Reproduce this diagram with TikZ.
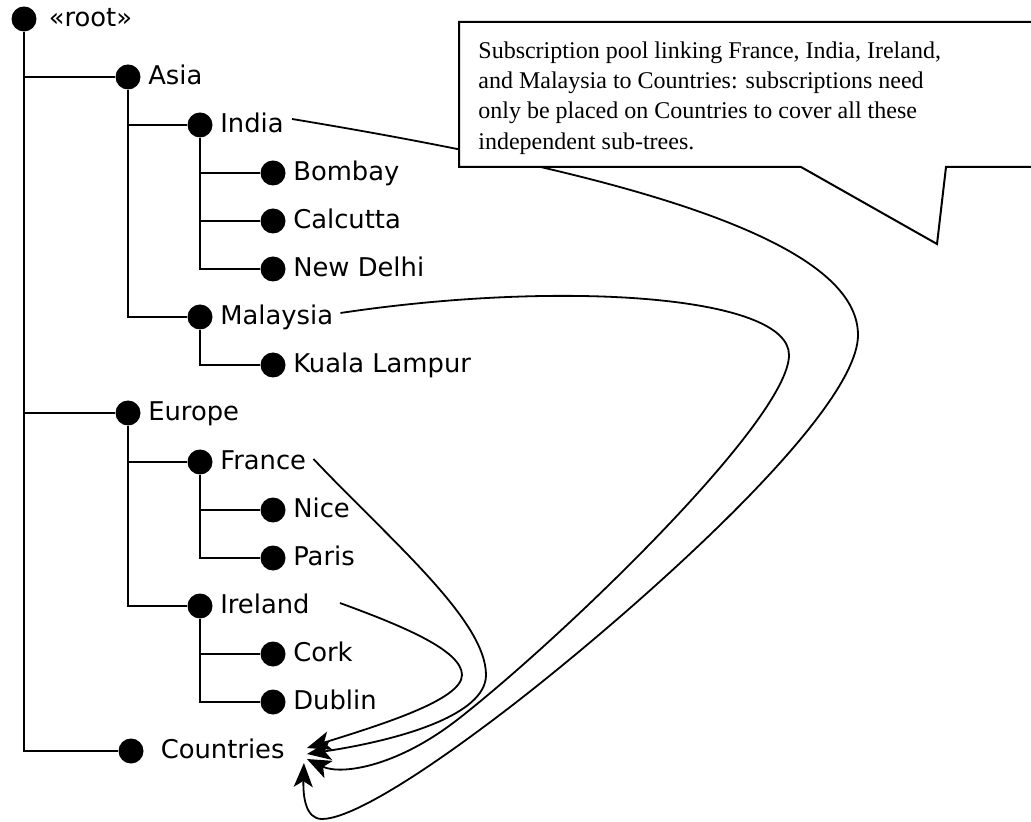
\documentclass[tikz,border=0pt]{standalone}
\usepackage{fontspec}
\setmainfont{Liberation Serif}
\setsansfont{DejaVu Sans}
\usetikzlibrary{arrows.meta,positioning}

\begin{document}
\begin{tikzpicture}[x=0.5pt,y=-0.5pt,
  every node/.style={font=\sffamily\fontsize{12.9}{15}\selectfont},
  dot/.style={circle,fill=black,inner sep=0pt,minimum size=12.5pt},
  lbl/.style={inner sep=0pt,text height=0.729em,text depth=0pt,anchor=west},
  tr/.style={line width=1pt},
  ln/.style={line width=0.9pt,-{Stealth[length=12pt,width=9.5pt,inset=3pt]}}]
\useasboundingbox (0,0) rectangle (1031,822);
% tree
\node[dot] (root) at (24,19) {};
\node[dot] (asia) at (128,77) {};
\node[dot] (india) at (200,125) {};
\node[dot] (bombay) at (273,173) {};
\node[dot] (calcutta) at (273,221) {};
\node[dot] (delhi) at (273,269) {};
\node[dot] (malaysia) at (200,317) {};
\node[dot] (kuala) at (273,365) {};
\node[dot] (europe) at (128,413) {};
\node[dot] (france) at (200,462) {};
\node[dot] (nice) at (273,510) {};
\node[dot] (paris) at (273,558) {};
\node[dot] (ireland) at (200,606) {};
\node[dot] (cork) at (273,654) {};
\node[dot] (dublin) at (273,702) {};
\node[dot] (countries) at (131,751) {};
\node[lbl,right=5.75pt of root] (lroot) {«root»};
\node[lbl,right=3.5pt of asia] (lasia) {Asia};
\node[lbl,right=3.5pt of india] (lindia) {India};
\node[lbl,right=3.5pt of bombay] (lbombay) {Bombay};
\node[lbl,right=3.5pt of calcutta] (lcalcutta) {Calcutta};
\node[lbl,right=3.5pt of delhi] (ldelhi) {New Delhi};
\node[lbl,right=3.5pt of malaysia] (lmalaysia) {Malaysia};
\node[lbl,right=3.5pt of kuala] (lkuala) {Kuala Lampur};
\node[lbl,right=3.5pt of europe] (leurope) {Europe};
\node[lbl,right=3.5pt of france] (lfrance) {France};
\node[lbl,right=3.5pt of nice] (lnice) {Nice};
\node[lbl,right=3.5pt of paris] (lparis) {Paris};
\node[lbl,right=3.5pt of ireland] (lireland) {Ireland};
\node[lbl,right=3.5pt of cork] (lcork) {Cork};
\node[lbl,right=3.5pt of dublin] (ldublin) {Dublin};
\node[lbl,right=8.25pt of countries] (lcountries) {Countries};
\foreach \c in {asia,europe,countries} {\draw[tr] (root) |- (\c);}
\foreach \c in {india,malaysia} {\draw[tr] (asia) |- (\c);}
\foreach \c in {bombay,calcutta,delhi} {\draw[tr] (india) |- (\c);}
\draw[tr] (malaysia) |- (kuala);
\foreach \c in {france,ireland} {\draw[tr] (europe) |- (\c);}
\foreach \c in {nice,paris} {\draw[tr] (france) |- (\c);}
\foreach \c in {cork,dublin} {\draw[tr] (ireland) |- (\c);}
% pool links
\draw[ln] ([shift={(8,-6)}]lindia.east) .. controls (600,170) and (858,235) .. (858,335)
  .. controls (858,420) and (600,640) .. (493,720)
  .. controls (400,790) and (345,819) .. (322,819)
  .. controls (305,819) and (303,795) .. ([shift={(19,12)}]lcountries.east);
\draw[ln] ([shift={(7,-4)}]lmalaysia.east) .. controls (560,280) and (789,295) .. (789,355)
  .. controls (789,420) and (560,640) .. (457,720)
  .. controls (395,768) and (340,775) .. ([shift={(22,8)}]lcountries.east);
\draw[ln] ([shift={(7,-3)}]lfrance.east) .. controls (390,540) and (486,620) .. (486,675)
  .. controls (486,715) and (400,740) .. ([shift={(22,3)}]lcountries.east);
\draw[ln] ([shift={(30,-3)}]lireland.east) .. controls (400,625) and (462,650) .. (462,675)
  .. controls (462,700) and (380,725) .. ([shift={(22,-3)}]lcountries.east);
% callout
\filldraw[fill=white,line width=1pt] (1036,22) -- (459,22) -- (459,167) -- (801,167)
  -- (937,244) -- (946,167) -- (1036,167);
\node[anchor=north west,inner sep=0pt,align=left,
  font=\rmfamily\fontsize{12}{15.2}\selectfont] (note) at (478,41)
  {Subscription pool linking France, India, Ireland,\\
   and Malaysia to Countries: subscriptions need\\
   only be placed on Countries to cover all these\\
   independent sub-trees.};
\end{tikzpicture}
\end{document}
